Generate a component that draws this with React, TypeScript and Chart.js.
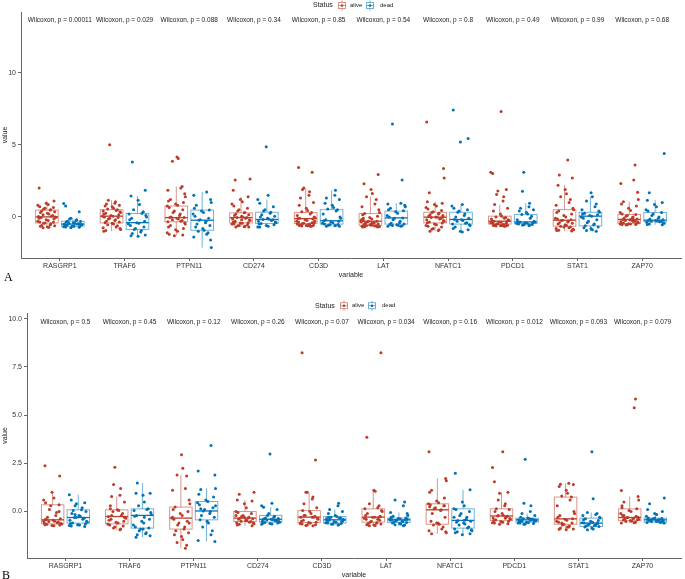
import React, { useEffect, useRef } from "react";
import { Chart, registerables } from "chart.js";
Chart.register(...registerables);

const GENES = ["RASGRP1", "TRAF6", "PTPN11", "CD274", "CD3D", "LAT", "NFATC1", "PDCD1", "STAT1", "ZAP70"];
const P_A = ["0.00011", "0.029", "0.088", "0.34", "0.85", "0.54", "0.8", "0.49", "0.99", "0.68"];
const P_B = ["0.5", "0.45", "0.12", "0.26", "0.07", "0.034", "0.16", "0.012", "0.093", "0.079"];
const TICKS_A = [0, 5, 10];
const TICKS_B = [0, 2.5, 5, 7.5, 10];

// [lower whisker, q1, median, q3, upper whisker]
const A_ALIVE_BOX = [
  [-0.75, -0.42, 0, 0.47, 1.1], [-1.0, -0.42, 0.05, 0.5, 1.15], [-1.3, -0.34, -0.05, 0.75, 2.1],
  [-0.7, -0.42, -0.05, 0.28, 1.4], [-0.65, -0.46, -0.12, 0.3, 2.0], [-0.7, -0.58, -0.3, 0.23, 1.4],
  [-1.0, -0.42, -0.02, 0.32, 1.05], [-0.65, -0.5, -0.3, 0.05, 0.85], [-0.98, -0.65, -0.23, 0.5, 2.2],
  [-0.55, -0.46, -0.18, 0.17, 1.05],
];
const A_DEAD_BOX = [
  [-0.75, -0.65, -0.5, -0.3, -0.1], [-1.35, -0.88, -0.4, 0.23, 1.45], [-2.13, -0.93, -0.23, 0.47, 1.73],
  [-0.7, -0.46, -0.18, 0.32, 1.2], [-0.65, -0.5, -0.27, 0.5, 1.85], [-0.65, -0.5, -0.07, 0.4, 0.95],
  [-1.05, -0.5, -0.18, 0.32, 0.86], [-0.6, -0.46, -0.35, 0.17, 0.95], [-1.0, -0.62, 0.05, 0.32, 1.39],
  [-0.55, -0.34, -0.23, 0.3, 1.16],
];
const B_ALIVE_BOX = [
  [-0.74, -0.64, -0.43, 0.35, 1.0], [-0.95, -0.64, -0.26, 0.09, 0.78], [-1.9, -0.91, -0.34, 0.23, 1.9],
  [-0.74, -0.52, -0.34, 0.0, 0.6], [-0.74, -0.57, -0.29, 0.05, 1.0], [-0.74, -0.55, -0.29, 0.14, 1.1],
  [-1.15, -0.66, 0.09, 0.4, 1.72], [-0.66, -0.47, -0.23, 0.14, 1.0], [-0.95, -0.66, -0.38, 0.75, 1.47],
  [-0.6, -0.47, -0.31, 0.14, 0.78],
];
const B_DEAD_BOX = [
  [-0.78, -0.6, -0.31, 0.09, 0.87], [-1.33, -0.86, -0.2, 0.14, 1.48], [-1.55, -0.43, 0.03, 0.52, 1.2],
  [-0.66, -0.55, -0.4, -0.2, 0.22], [-0.7, -0.6, -0.43, -0.26, 0.1], [-0.74, -0.57, -0.43, -0.34, -0.05],
  [-1.2, -0.86, -0.46, 0.14, 1.13], [-0.66, -0.55, -0.43, -0.34, -0.1], [-0.95, -0.78, -0.6, -0.34, -0.05],
  [-0.6, -0.55, -0.43, -0.34, -0.1],
];

const A_ALIVE = [
  [2.0, 1.1, 0.95, 0.85, 0.8, 0.7, 0.65, 0.6, 0.55, 0.5, 0.47, 0.4, 0.35, 0.3, 0.25, 0.2, 0.15, 0.1, 0.05, 0.02, 0.0, -0.02, -0.05, -0.1, -0.15, -0.2, -0.25, -0.3, -0.35, -0.38, -0.42, -0.45, -0.5, -0.55, -0.6, -0.62, -0.65, -0.7, -0.72, -0.75],
  [5.0, 1.15, 1.05, 0.95, 0.9, 0.8, 0.75, 0.7, 0.6, 0.55, 0.5, 0.45, 0.4, 0.35, 0.3, 0.25, 0.2, 0.15, 0.1, 0.05, 0.05, 0.0, -0.05, -0.1, -0.15, -0.2, -0.25, -0.3, -0.35, -0.4, -0.45, -0.5, -0.55, -0.62, -0.7, -0.75, -0.8, -0.88, -0.95, -1.0],
  [4.15, 4.05, 3.85, 2.1, 2.0, 1.85, 1.6, 1.4, 1.2, 1.1, 1.0, 0.9, 0.8, 0.75, 0.65, 0.5, 0.4, 0.3, 0.2, 0.1, 0.0, -0.05, -0.05, -0.1, -0.15, -0.2, -0.25, -0.3, -0.34, -0.4, -0.5, -0.6, -0.7, -0.8, -0.9, -1.0, -1.1, -1.2, -1.25, -1.3],
  [2.62, 2.55, 1.85, 1.4, 1.2, 1.05, 0.9, 0.75, 0.6, 0.5, 0.4, 0.3, 0.28, 0.2, 0.15, 0.1, 0.05, 0.0, -0.05, -0.05, -0.1, -0.15, -0.2, -0.25, -0.3, -0.35, -0.4, -0.42, -0.45, -0.5, -0.5, -0.55, -0.6, -0.62, -0.65, -0.68, -0.7, -0.7, -0.35, -0.2],
  [3.43, 3.1, 2.0, 1.9, 1.75, 1.5, 1.3, 1.0, 0.8, 0.6, 0.45, 0.35, 0.3, 0.2, 0.1, 0.0, -0.05, -0.1, -0.12, -0.15, -0.2, -0.25, -0.3, -0.35, -0.4, -0.45, -0.46, -0.5, -0.52, -0.55, -0.58, -0.6, -0.6, -0.62, -0.63, -0.65, -0.65, -0.5, -0.4, -0.3],
  [2.94, 2.3, 1.9, 1.62, 1.4, 1.2, 0.9, 0.7, 0.5, 0.3, 0.23, 0.15, 0.05, -0.05, -0.15, -0.2, -0.25, -0.3, -0.3, -0.35, -0.4, -0.42, -0.45, -0.5, -0.52, -0.55, -0.58, -0.6, -0.62, -0.63, -0.65, -0.66, -0.67, -0.68, -0.7, -0.7, -0.55, -0.45, -0.35, -0.1],
  [6.58, 3.35, 2.7, 1.67, 1.05, 0.95, 0.85, 0.75, 0.65, 0.55, 0.45, 0.35, 0.3, 0.25, 0.2, 0.15, 0.1, 0.05, 0.0, -0.02, -0.05, -0.1, -0.15, -0.2, -0.25, -0.3, -0.35, -0.4, -0.42, -0.5, -0.55, -0.6, -0.65, -0.7, -0.8, -0.85, -0.9, -0.95, -1.0, 0.0],
  [7.3, 3.1, 3.0, 1.9, 1.8, 1.55, 1.4, 1.1, 0.85, 0.6, 0.4, 0.2, 0.05, 0.0, -0.05, -0.1, -0.15, -0.2, -0.25, -0.3, -0.3, -0.32, -0.35, -0.38, -0.4, -0.42, -0.45, -0.48, -0.5, -0.52, -0.55, -0.57, -0.58, -0.6, -0.6, -0.62, -0.63, -0.64, -0.65, -0.4],
  [3.94, 2.9, 2.7, 2.2, 1.9, 1.6, 1.4, 1.2, 1.0, 0.8, 0.6, 0.5, 0.4, 0.3, 0.2, 0.1, 0.0, -0.1, -0.15, -0.2, -0.23, -0.25, -0.3, -0.35, -0.4, -0.45, -0.5, -0.55, -0.6, -0.65, -0.7, -0.75, -0.8, -0.85, -0.9, -0.92, -0.95, -0.98, -0.7, -0.6],
  [3.59, 2.55, 2.32, 1.7, 1.2, 1.05, 0.9, 0.75, 0.6, 0.45, 0.3, 0.2, 0.17, 0.1, 0.05, 0.0, -0.05, -0.1, -0.15, -0.18, -0.2, -0.22, -0.25, -0.28, -0.3, -0.33, -0.36, -0.4, -0.42, -0.45, -0.46, -0.48, -0.5, -0.5, -0.52, -0.53, -0.54, -0.55, -0.3, -0.1],
];
const A_DEAD = [
  [0.93, 0.75, 0.35, -0.1, -0.15, -0.2, -0.25, -0.3, -0.32, -0.35, -0.4, -0.42, -0.45, -0.48, -0.5, -0.5, -0.52, -0.55, -0.58, -0.6, -0.62, -0.65, -0.65, -0.68, -0.7, -0.72, -0.75],
  [3.8, 1.85, 1.45, 1.15, 0.85, 0.5, 0.35, 0.25, 0.2, 0.1, 0.0, -0.1, -0.2, -0.3, -0.4, -0.45, -0.5, -0.6, -0.7, -0.8, -0.88, -0.95, -1.05, -1.15, -1.25, -1.3, -1.35],
  [1.73, 1.5, 1.2, 1.0, 0.8, 0.6, 0.47, 0.4, 0.3, 0.2, 0.05, -0.1, -0.2, -0.23, -0.3, -0.4, -0.5, -0.6, -0.7, -0.8, -0.93, -1.0, -1.1, -1.2, -1.4, -1.6, -2.13],
  [4.86, 1.5, 1.2, 0.95, 0.7, 0.5, 0.4, 0.32, 0.25, 0.15, 0.05, 0.0, -0.1, -0.15, -0.18, -0.2, -0.25, -0.3, -0.35, -0.4, -0.46, -0.5, -0.55, -0.6, -0.65, -0.7, -0.7],
  [1.85, 1.5, 1.3, 1.2, 0.95, 0.8, 0.65, 0.55, 0.5, 0.4, 0.2, 0.0, -0.1, -0.2, -0.27, -0.3, -0.35, -0.4, -0.45, -0.5, -0.52, -0.55, -0.58, -0.6, -0.62, -0.65, -0.65],
  [6.44, 2.55, 0.95, 0.9, 0.8, 0.7, 0.6, 0.5, 0.42, 0.35, 0.25, 0.1, 0.0, -0.07, -0.1, -0.2, -0.3, -0.4, -0.45, -0.5, -0.52, -0.55, -0.58, -0.6, -0.62, -0.65, -0.65],
  [7.4, 5.44, 5.19, 0.86, 0.75, 0.6, 0.5, 0.4, 0.32, 0.2, 0.1, 0.0, -0.1, -0.18, -0.2, -0.25, -0.3, -0.4, -0.45, -0.5, -0.55, -0.6, -0.7, -0.8, -0.9, -1.0, -1.05],
  [3.1, 1.78, 0.95, 0.7, 0.6, 0.5, 0.4, 0.3, 0.2, 0.17, 0.05, -0.1, -0.2, -0.3, -0.35, -0.35, -0.38, -0.4, -0.42, -0.45, -0.46, -0.5, -0.52, -0.55, -0.57, -0.58, -0.6],
  [1.67, 1.39, 1.1, 0.9, 0.7, 0.5, 0.4, 0.32, 0.25, 0.2, 0.15, 0.1, 0.05, 0.0, -0.1, -0.2, -0.3, -0.4, -0.5, -0.55, -0.62, -0.7, -0.75, -0.8, -0.9, -0.95, -1.0],
  [4.4, 1.67, 1.16, 1.0, 0.85, 0.7, 0.5, 0.4, 0.3, 0.2, 0.1, 0.0, -0.1, -0.15, -0.2, -0.23, -0.25, -0.28, -0.3, -0.32, -0.34, -0.38, -0.42, -0.45, -0.5, -0.52, -0.55],
];
const B_ALIVE = [
  [2.37, 1.85, 1.0, 0.7, 0.6, 0.45, 0.35, 0.3, 0.1, -0.05, -0.2, -0.3, -0.38, -0.43, -0.45, -0.5, -0.52, -0.55, -0.58, -0.6, -0.62, -0.64, -0.66, -0.68, -0.7, -0.72, -0.74, -0.5, -0.4, 0.0],
  [2.3, 1.4, 1.2, 0.85, 0.78, 0.5, 0.3, 0.09, 0.05, 0.0, -0.1, -0.2, -0.26, -0.3, -0.35, -0.4, -0.45, -0.5, -0.55, -0.6, -0.64, -0.7, -0.75, -0.8, -0.85, -0.9, -0.95, -0.2, -0.3, 0.15],
  [2.94, 2.24, 1.9, 1.85, 1.2, 1.1, 0.6, 0.4, 0.23, 0.1, 0.0, -0.1, -0.2, -0.34, -0.4, -0.5, -0.6, -0.7, -0.8, -0.91, -1.0, -1.1, -1.2, -1.3, -1.45, -1.6, -1.75, -1.9, -0.3, -0.6],
  [1.0, 0.9, 0.6, 0.55, 0.4, 0.2, 0.0, -0.05, -0.1, -0.2, -0.25, -0.3, -0.34, -0.35, -0.38, -0.4, -0.45, -0.48, -0.5, -0.52, -0.55, -0.58, -0.6, -0.63, -0.66, -0.7, -0.74, -0.3, -0.45, -0.2],
  [8.24, 2.67, 1.0, 1.0, 0.75, 0.65, 0.4, 0.2, 0.05, 0.0, -0.1, -0.2, -0.25, -0.29, -0.3, -0.35, -0.4, -0.45, -0.5, -0.55, -0.57, -0.6, -0.62, -0.65, -0.68, -0.7, -0.72, -0.74, -0.3, -0.2],
  [8.24, 3.85, 1.1, 1.05, 0.4, 0.3, 0.2, 0.14, 0.05, 0.0, -0.1, -0.2, -0.25, -0.29, -0.3, -0.35, -0.4, -0.45, -0.5, -0.55, -0.58, -0.6, -0.62, -0.65, -0.68, -0.7, -0.72, -0.74, -0.3, -0.4],
  [3.1, 1.72, 1.6, 1.1, 1.0, 0.7, 0.55, 0.45, 0.4, 0.35, 0.3, 0.2, 0.15, 0.09, 0.05, -0.1, -0.3, -0.5, -0.6, -0.66, -0.7, -0.8, -0.9, -1.0, -1.05, -1.1, -1.15, 0.25, 0.3, -0.6],
  [3.1, 2.28, 1.55, 1.0, 0.95, 0.6, 0.4, 0.3, 0.14, 0.1, 0.0, -0.1, -0.2, -0.23, -0.25, -0.3, -0.33, -0.36, -0.4, -0.43, -0.47, -0.5, -0.52, -0.55, -0.58, -0.6, -0.63, -0.66, -0.2, -0.35],
  [1.47, 1.42, 1.4, 1.3, 1.1, 0.95, 0.8, 0.75, 0.6, 0.3, 0.0, -0.1, -0.2, -0.3, -0.38, -0.4, -0.45, -0.5, -0.55, -0.6, -0.66, -0.7, -0.75, -0.8, -0.85, -0.9, -0.92, -0.95, -0.8, -0.6],
  [5.84, 5.39, 1.09, 0.78, 0.6, 0.5, 0.3, 0.14, 0.05, 0.0, -0.1, -0.2, -0.25, -0.31, -0.32, -0.35, -0.38, -0.4, -0.42, -0.44, -0.47, -0.5, -0.52, -0.55, -0.58, -0.6, -0.3, -0.4, -0.2, 0.2],
];
const B_DEAD = [
  [0.87, 0.6, 0.45, 0.4, 0.3, 0.2, 0.09, 0.05, 0.0, -0.1, -0.2, -0.25, -0.31, -0.35, -0.4, -0.45, -0.5, -0.55, -0.6, -0.62, -0.65, -0.68, -0.7, -0.72, -0.75, -0.78, -0.3, -0.15],
  [1.48, 0.95, 0.95, 0.85, 0.5, 0.3, 0.14, 0.1, 0.05, -0.05, -0.15, -0.2, -0.25, -0.4, -0.5, -0.6, -0.7, -0.8, -0.86, -0.9, -1.0, -1.1, -1.15, -1.2, -1.25, -1.33, -0.9, -0.3],
  [3.42, 2.1, 1.9, 1.2, 1.15, 0.9, 0.75, 0.6, 0.52, 0.45, 0.35, 0.2, 0.1, 0.03, 0.0, -0.1, -0.2, -0.3, -0.43, -0.5, -0.6, -0.8, -1.0, -1.2, -1.5, -1.55, 0.3, 0.15],
  [2.98, 0.43, 0.3, 0.22, 0.1, -0.1, -0.2, -0.25, -0.3, -0.33, -0.36, -0.38, -0.4, -0.42, -0.44, -0.46, -0.48, -0.5, -0.52, -0.55, -0.57, -0.59, -0.6, -0.62, -0.64, -0.66, -0.4, -0.45],
  [0.43, 0.3, 0.1, 0.0, -0.1, -0.2, -0.26, -0.3, -0.32, -0.35, -0.38, -0.4, -0.43, -0.45, -0.47, -0.5, -0.52, -0.55, -0.58, -0.6, -0.62, -0.64, -0.66, -0.68, -0.7, -0.4, -0.5, -0.3],
  [0.6, 0.5, 0.3, -0.05, -0.1, -0.2, -0.25, -0.3, -0.34, -0.36, -0.38, -0.4, -0.42, -0.43, -0.45, -0.47, -0.5, -0.52, -0.55, -0.57, -0.6, -0.62, -0.65, -0.68, -0.7, -0.74, -0.45, -0.4],
  [1.99, 1.13, 0.5, 0.3, 0.14, 0.1, 0.0, -0.1, -0.2, -0.3, -0.4, -0.46, -0.5, -0.55, -0.6, -0.65, -0.7, -0.8, -0.86, -0.9, -0.95, -1.0, -1.05, -1.1, -1.15, -1.2, -0.45, -0.3],
  [2.71, 0.43, 0.3, 0.0, -0.1, -0.2, -0.3, -0.34, -0.36, -0.38, -0.4, -0.42, -0.43, -0.44, -0.46, -0.48, -0.5, -0.52, -0.55, -0.57, -0.59, -0.6, -0.62, -0.64, -0.66, -0.4, -0.45, -0.5],
  [3.1, 0.66, -0.05, -0.1, -0.15, -0.2, -0.3, -0.34, -0.38, -0.42, -0.46, -0.5, -0.55, -0.58, -0.6, -0.62, -0.65, -0.68, -0.7, -0.72, -0.75, -0.78, -0.8, -0.85, -0.9, -0.95, -0.6, -0.7],
  [0.7, 0.4, 0.1, 0.0, -0.1, -0.15, -0.25, -0.34, -0.36, -0.38, -0.4, -0.42, -0.43, -0.44, -0.45, -0.47, -0.48, -0.5, -0.52, -0.55, -0.56, -0.57, -0.58, -0.6, -0.45, -0.4, -0.5, -0.35],
];

// fixed jitter offsets (category units)
const JITTER = [-0.12, 0.05, 0.13, -0.03, 0.09, -0.14, 0.01, 0.11, -0.08, 0.14, -0.05, 0.07, -0.11, 0.03, -0.01, 0.12, -0.09, 0.06, -0.13, 0.1, -0.06, 0.02, -0.1];

const RED = "#BC3C29";
const BLUE = "#0072B5";
const RED_L = "rgba(188,60,41,0.55)";
const BLUE_L = "rgba(0,114,181,0.55)";
const DODGE = 0.2;
const HALF_W = 0.175;
const SANS = "'Liberation Sans', Arial, sans-serif";

function toPoints(groups, side, seed) {
  const out = [];
  groups.forEach((vals, g) => {
    vals.forEach((v, k) => {
      const j = JITTER[(k * 7 + g * 3 + seed) % JITTER.length];
      out.push({ x: g + 1 + side * DODGE + j, y: v });
    });
  });
  return out;
}

function drawKey(ctx, x, y, col, light) {
  ctx.save();
  ctx.strokeStyle = light;
  ctx.lineWidth = 1;
  ctx.strokeRect(x + 0.5, y - 3, 7, 6);
  ctx.beginPath();
  ctx.moveTo(x + 4, y - 5);
  ctx.lineTo(x + 4, y - 3);
  ctx.moveTo(x + 4, y + 3);
  ctx.lineTo(x + 4, y + 5);
  ctx.moveTo(x + 0.5, y);
  ctx.lineTo(x + 7.5, y);
  ctx.stroke();
  ctx.fillStyle = col;
  ctx.beginPath();
  ctx.arc(x + 4, y, 1.3, 0, Math.PI * 2);
  ctx.fill();
  ctx.restore();
}

function makeConfig(p) {
  const overlay = {
    id: "overlay",
    beforeDatasetsDraw(chart) {
      const ctx = chart.ctx;
      const xs = chart.scales.x;
      const ys = chart.scales.y;
      const half = xs.getPixelForValue(HALF_W) - xs.getPixelForValue(0);
      const sets = [
        [p.aliveBox, -1, RED, RED_L],
        [p.deadBox, 1, BLUE, BLUE_L],
      ];
      ctx.save();
      sets.forEach(([boxes, side, col, light]) => {
        boxes.forEach((b, g) => {
          const cx = xs.getPixelForValue(g + 1 + side * DODGE);
          const [lo, q1, med, q3, hi] = b.map((v) => ys.getPixelForValue(v));
          ctx.strokeStyle = light;
          ctx.lineWidth = 1;
          ctx.beginPath();
          ctx.moveTo(cx, q3);
          ctx.lineTo(cx, hi);
          ctx.moveTo(cx, q1);
          ctx.lineTo(cx, lo);
          ctx.stroke();
          ctx.strokeRect(cx - half, q3, half * 2, q1 - q3);
          ctx.strokeStyle = col;
          ctx.lineWidth = 1.3;
          ctx.beginPath();
          ctx.moveTo(cx - half, med);
          ctx.lineTo(cx + half, med);
          ctx.stroke();
        });
      });
      ctx.restore();
    },
    afterDraw(chart) {
      const ctx = chart.ctx;
      const xs = chart.scales.x;
      const ys = chart.scales.y;
      const area = chart.chartArea;
      ctx.save();
      ctx.fillStyle = "#222";
      ctx.textBaseline = "middle";
      ctx.textAlign = "center";
      ctx.font = `6.5px ${SANS}`;
      const py = ys.getPixelForValue(p.pY);
      p.pvals.forEach((pv, g) => {
        ctx.fillText(`Wilcoxon, p = ${pv}`, xs.getPixelForValue(g + 1), py);
      });
      // legend
      ctx.textAlign = "left";
      ctx.font = `7px ${SANS}`;
      ctx.fillStyle = "#222";
      ctx.fillText("Status", p.legX, p.legY);
      drawKey(ctx, p.legX + 25, p.legY, RED, RED_L);
      ctx.font = `6px ${SANS}`;
      ctx.fillText("alive", p.legX + 37, p.legY);
      drawKey(ctx, p.legX + 53, p.legY, BLUE, BLUE_L);
      ctx.fillText("dead", p.legX + 67, p.legY);
      // axis titles
      ctx.font = `7px ${SANS}`;
      ctx.textAlign = "center";
      ctx.fillText("variable", (area.left + area.right) / 2, p.xTitleY);
      ctx.save();
      ctx.translate(5, (area.top + area.bottom) / 2);
      ctx.rotate(-Math.PI / 2);
      ctx.fillText("value", 0, 0);
      ctx.restore();
      // panel letter
      ctx.textAlign = "left";
      ctx.fillStyle = "#000";
      ctx.font = `12px 'Liberation Serif', 'DejaVu Serif', serif`;
      ctx.fillText(p.letter, p.letterX, p.letterY);
      ctx.restore();
    },
  };

  return {
    type: "scatter",
    data: {
      datasets: [
        {
          label: "alive",
          data: toPoints(p.alive, -1, 0),
          backgroundColor: RED,
          borderWidth: 0,
          pointRadius: 1.5,
        },
        {
          label: "dead",
          data: toPoints(p.dead, 1, 5),
          backgroundColor: BLUE,
          borderWidth: 0,
          pointRadius: 1.5,
        },
      ],
    },
    options: {
      animation: false,
      responsive: false,
      maintainAspectRatio: false,
      layout: { padding: { top: p.topPad, right: 0, left: 0, bottom: 0 } },
      plugins: { legend: { display: false }, tooltip: { enabled: false } },
      scales: {
        x: {
          type: "linear",
          min: 0.4,
          max: 10.6,
          afterFit: (s) => {
            s.height = p.bottomH;
          },
          afterBuildTicks: (s) => {
            s.ticks = GENES.map((_, i) => ({ value: i + 1 }));
          },
          grid: { display: true, drawOnChartArea: false, drawTicks: true, tickLength: 3, color: "#666", lineWidth: 1 },
          border: { display: true, color: "#666", width: 1 },
          ticks: {
            autoSkip: false,
            maxRotation: 0,
            padding: 1,
            color: "#333",
            font: { family: SANS, size: 7 },
            callback: (v) => GENES[Math.round(v) - 1] ?? "",
          },
        },
        y: {
          type: "linear",
          min: p.yMin,
          max: p.yMax,
          afterFit: (s) => {
            s.width = p.leftW;
          },
          afterBuildTicks: (s) => {
            s.ticks = p.yTicks.map((v) => ({ value: v }));
          },
          grid: { display: true, drawOnChartArea: false, drawTicks: true, tickLength: 3, color: "#666", lineWidth: 1 },
          border: { display: true, color: "#666", width: 1 },
          ticks: {
            padding: 2,
            color: "#333",
            font: { family: SANS, size: 7 },
            callback: p.tickFmt,
          },
        },
      },
    },
    plugins: [overlay],
  };
}

const PANEL_A = {
  alive: A_ALIVE, dead: A_DEAD, aliveBox: A_ALIVE_BOX, deadBox: A_DEAD_BOX, pvals: P_A,
  yMin: -2.85, yMax: 14.2, yTicks: TICKS_A, tickFmt: (v) => String(v), pY: 13.6,
  leftW: 21, topPad: 12, bottomH: 32, legX: 313, legY: 5.5, xTitleY: 275, letter: "A", letterX: 4, letterY: 278,
};
const PANEL_B = {
  alive: B_ALIVE, dead: B_DEAD, aliveBox: B_ALIVE_BOX, deadBox: B_DEAD_BOX, pvals: P_B,
  yMin: -2.41, yMax: 10.3, yTicks: TICKS_B, tickFmt: (v) => Number(v).toFixed(1), pY: 9.8,
  leftW: 27, topPad: 23, bottomH: 21, legX: 315, legY: 15.7, xTitleY: 285, letter: "B", letterX: 2, letterY: 285.5,
};

function Panel({ cfg, height }) {
  const ref = useRef(null);
  useEffect(() => {
    const chart = new Chart(ref.current, makeConfig(cfg));
    return () => chart.destroy();
  }, [cfg]);
  return <canvas ref={ref} width={685} height={height} style={{ display: "block", width: 685, height }} />;
}

export default function App() {
  return (
    <div style={{ position: "absolute", left: 0, top: 0, width: 685, height: 579, background: "#fff" }}>
      <Panel cfg={PANEL_A} height={290} />
      <Panel cfg={PANEL_B} height={289} />
    </div>
  );
}
